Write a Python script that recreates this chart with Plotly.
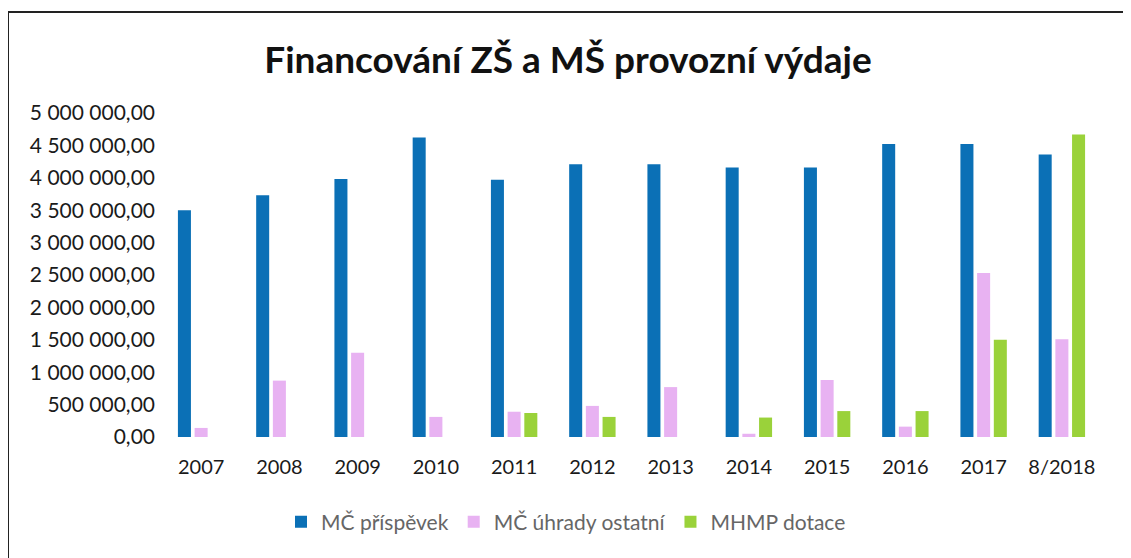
import plotly.graph_objects as go

categories = ["2007", "2008", "2009", "2010", "2011", "2012", "2013", "2014", "2015", "2016", "2017", "8/2018"]
mc_prispevek = [3500000, 3730000, 3980000, 4620000, 3970000, 4210000, 4210000, 4160000, 4160000, 4520000, 4520000, 4360000]
mc_uhrady = [140000, 870000, 1300000, 310000, 390000, 480000, 770000, 50000, 880000, 160000, 2530000, 1510000]
mhmp_dotace = [None, None, None, None, 370000, 310000, None, 300000, 400000, 400000, 1500000, 4670000]

series_names = ["MČ příspěvek", "MČ úhrady ostatní", "MHMP dotace"]
series_colors = ["#0B70B6", "#E8B2F2", "#9AD23A"]

# page is offset by the default 8px body margin
OFF = 8
W, H = 1131, 558
L, R, T, B = 162 - OFF, 38, 113 - OFF, 121 + OFF
PW, PH = W - L - R, H - T - B

fig = go.Figure()
for name, vals, col in zip(series_names, [mc_prispevek, mc_uhrady, mhmp_dotace], series_colors):
    fig.add_trace(go.Bar(x=categories, y=vals, name=name, marker=dict(color=col, line=dict(width=0))))

def px_x(p):
    return (p - OFF - L) / PW

def px_y(p):
    return (H - B - (p - OFF)) / PH

fig.update_layout(
    width=W, height=H,
    margin=dict(l=L, r=R, t=T, b=B, autoexpand=False),
    paper_bgcolor="white", plot_bgcolor="white",
    separators=", ",
    barmode="group", bargap=0.36, bargroupgap=0.22,
    title=dict(text="<b>Financování ZŠ a MŠ provozní výdaje</b>", x=(568 - OFF) / W, xanchor="center",
               y=1 - (60 - OFF) / H, yanchor="middle",
               font=dict(family="Lato, 'Noto Sans', sans-serif", size=37, color="#111111")),
    font=dict(family="Lato, 'Noto Sans', sans-serif", color="#1a1a1a"),
    xaxis=dict(type="category", showline=False, showgrid=False, ticks="",
               tickfont=dict(size=20, color="#1a1a1a"), ticklabelstandoff=16),
    yaxis=dict(range=[0, 5000000], dtick=500000, tickformat=",.2f", showgrid=False, zeroline=False,
               showline=False, ticks="", tickfont=dict(size=21, color="#1a1a1a"), ticklabelstandoff=6),
    legend=dict(orientation="h", x=px_x(566), xanchor="center", y=px_y(522), yanchor="middle",
                font=dict(size=21, color="#666666"), itemwidth=30, tracegroupgap=0,
                traceorder="normal"),
    shapes=[dict(type="rect", xref="paper", yref="paper",
                 x0=px_x(8), x1=px_x(1150), y0=px_y(575), y1=px_y(12),
                 line=dict(color="#222222", width=2), fillcolor="rgba(0,0,0,0)", layer="below")],
)

fig.write_html("out.html")
